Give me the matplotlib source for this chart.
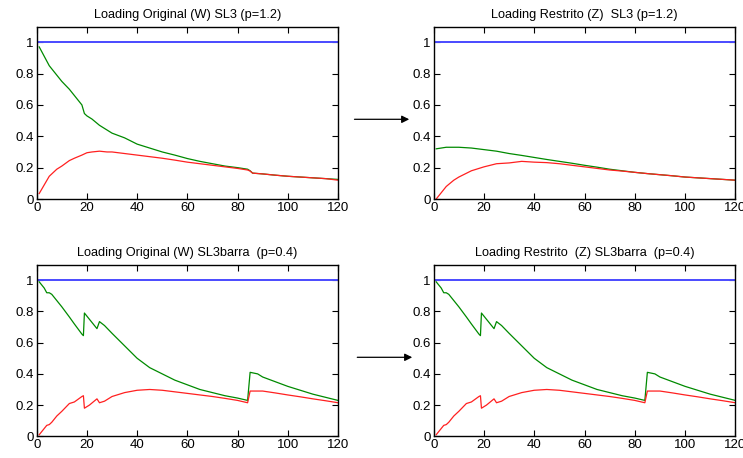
import matplotlib
matplotlib.use('agg')
import matplotlib.pyplot as plt

plt.rcParams['font.family'] = ['Liberation Sans', 'DejaVu Sans']

# Loading Original (W) SL3 (p=1.2)
w_sl3_x_green = [1, 3, 5, 8, 10, 13, 15, 18, 19, 20, 22, 25, 28, 30, 35, 40, 45, 50, 55, 60,
                 65, 70, 75, 80, 84, 85, 86, 90, 95, 100, 105, 110, 115, 120]
w_sl3_green = [0.97, 0.91, 0.85, 0.79, 0.75, 0.70, 0.66, 0.60, 0.545, 0.53, 0.51, 0.47, 0.44,
               0.42, 0.39, 0.35, 0.325, 0.30, 0.28, 0.258, 0.24, 0.225, 0.21, 0.20, 0.19,
               0.18, 0.165, 0.16, 0.152, 0.145, 0.14, 0.135, 0.13, 0.125]
w_sl3_x_red = [1, 3, 5, 8, 10, 13, 15, 18, 20, 22, 25, 28, 30, 35, 40, 45, 50, 55, 60, 65, 70,
               75, 80, 84, 85, 86, 90, 95, 100, 105, 110, 115, 120]
w_sl3_red = [0.035, 0.09, 0.145, 0.19, 0.21, 0.245, 0.26, 0.28, 0.295, 0.30, 0.305, 0.30,
             0.30, 0.29, 0.28, 0.27, 0.26, 0.248, 0.235, 0.225, 0.215, 0.205, 0.195, 0.185,
             0.178, 0.165, 0.16, 0.152, 0.145, 0.14, 0.135, 0.13, 0.12]

# Loading Restrito (Z) SL3 (p=1.2)
z_sl3_x = [1, 3, 5, 8, 10, 15, 20, 25, 30, 35, 40, 45, 50, 55, 60, 65, 70, 75, 80, 85, 90,
           95, 100, 105, 110, 115, 120]
z_sl3_green = [0.32, 0.325, 0.33, 0.33, 0.33, 0.325, 0.315, 0.305, 0.29, 0.278, 0.265, 0.252,
               0.24, 0.228, 0.215, 0.203, 0.19, 0.18, 0.17, 0.162, 0.155, 0.148, 0.14, 0.135,
               0.13, 0.125, 0.12]
z_sl3_red = [0.0, 0.04, 0.08, 0.12, 0.14, 0.18, 0.205, 0.225, 0.23, 0.24, 0.235, 0.232, 0.225,
             0.215, 0.205, 0.195, 0.185, 0.178, 0.17, 0.162, 0.155, 0.148, 0.14, 0.135, 0.13,
             0.125, 0.12]

# Loading Original (W) / Restrito (Z) SL3barra (p=0.4)
sl3b_x_green = [1, 3, 4, 5, 6, 8, 10, 13, 15, 18, 18.6, 19, 20, 22, 24, 25, 27, 30, 35, 40,
                45, 50, 55, 60, 65, 70, 75, 80, 84, 85, 88, 90, 95, 100, 105, 110, 115, 120]
sl3b_green = [0.99, 0.95, 0.92, 0.92, 0.91, 0.87, 0.83, 0.765, 0.72, 0.655, 0.645, 0.79, 0.77,
              0.73, 0.69, 0.735, 0.71, 0.66, 0.58, 0.50, 0.44, 0.40, 0.36, 0.33, 0.30, 0.28,
              0.26, 0.245, 0.23, 0.41, 0.40, 0.38, 0.35, 0.32, 0.295, 0.27, 0.25, 0.23]
sl3b_x_red = [1, 2, 4, 5, 6, 8, 10, 13, 15, 18, 18.6, 19, 21, 24, 25, 27, 30, 35, 40, 45, 50,
              55, 60, 65, 70, 75, 80, 84, 85, 90, 95, 100, 105, 110, 115, 120]
sl3b_red = [0.01, 0.03, 0.07, 0.075, 0.09, 0.13, 0.16, 0.21, 0.22, 0.255, 0.26, 0.18, 0.20,
            0.24, 0.215, 0.225, 0.255, 0.28, 0.295, 0.30, 0.295, 0.285, 0.275, 0.265, 0.255,
            0.243, 0.23, 0.215, 0.29, 0.29, 0.278, 0.265, 0.253, 0.24, 0.228, 0.215]

blue_x = [0, 120]
blue_y = [1, 1]

titles = ['Loading Original (W) SL3 (p=1.2)',
          'Loading Restrito (Z)  SL3 (p=1.2)',
          'Loading Original (W) SL3barra  (p=0.4)',
          'Loading Restrito  (Z) SL3barra  (p=0.4)']
xticks = [0, 20, 40, 60, 80, 100, 120]
yticks = [0, 0.2, 0.4, 0.6, 0.8, 1]
ytick_labels = ['0', '0.2', '0.4', '0.6', '0.8', '1']

panels = [
    (w_sl3_x_green, w_sl3_green, w_sl3_x_red, w_sl3_red),
    (z_sl3_x, z_sl3_green, z_sl3_x, z_sl3_red),
    (sl3b_x_green, sl3b_green, sl3b_x_red, sl3b_red),
    (sl3b_x_green, sl3b_green, sl3b_x_red, sl3b_red),
]

positions = [
    [0.0494, 0.5655, 0.4055, 0.3766],
    [0.5837, 0.5655, 0.4060, 0.3766],
    [0.0494, 0.0474, 0.4055, 0.3747],
    [0.5837, 0.0474, 0.4060, 0.3747],
]

fig = plt.figure(figsize=(7.43, 4.58), dpi=100)

for pos, title, (xg, g, xr, r) in zip(positions, titles, panels):
    ax = fig.add_axes(pos)
    ax.plot(blue_x, blue_y, color='#4a4aff', lw=1.4)
    ax.plot(xg, g, color='#008a00', lw=0.9)
    ax.plot(xr, r, color='#ff2020', lw=0.9)
    ax.set_xlim(0, 120)
    ax.set_ylim(0, 1.1)
    ax.set_xticks(xticks)
    ax.set_yticks(yticks)
    ax.set_yticklabels(ytick_labels)
    ax.tick_params(direction='in', length=4, width=0.8, labelsize=9.5, pad=2,
                   top=True, right=True)
    for s in ax.spines.values():
        s.set_linewidth(1.0)
    ax.set_title(title, fontsize=9.2, pad=6)

# arrows between panels
fig.add_artist(matplotlib.patches.FancyArrowPatch(
    (351.7 / 743, 1 - 119.3 / 458), (412 / 743, 1 - 119.3 / 458),
    transform=fig.transFigure, arrowstyle='-|>', mutation_scale=11, lw=0.9, color='black'))
fig.add_artist(matplotlib.patches.FancyArrowPatch(
    (354.5 / 743, 1 - 357.3 / 458), (415 / 743, 1 - 357.3 / 458),
    transform=fig.transFigure, arrowstyle='-|>', mutation_scale=11, lw=0.9, color='black'))

plt.savefig('out.png', dpi=100)
